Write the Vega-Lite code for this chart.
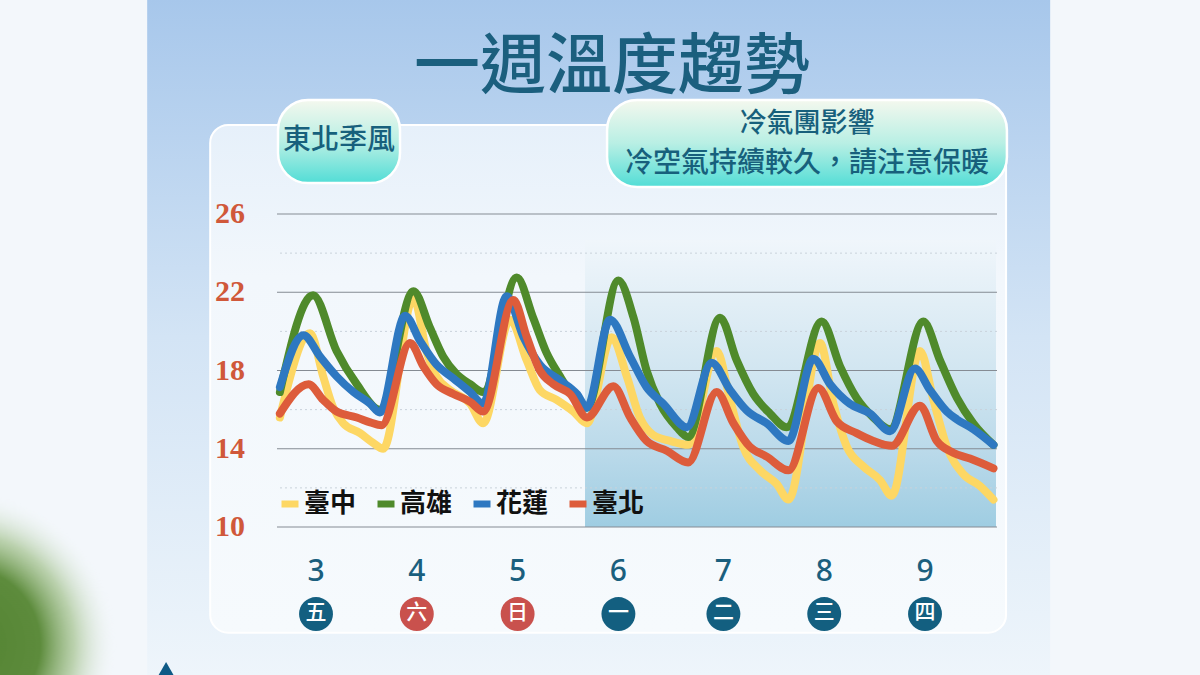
{
  "$schema": "https://vega.github.io/schema/vega-lite/v6.json",
  "width": 720,
  "height": 313,
  "autosize": {"type": "none"},
  "padding": {"left": 277, "right": 203, "top": 214, "bottom": 148},
  "background": "#f3f7fb",
  "config": {"view": {"stroke": null}, "font": "Noto Sans CJK TC"},
  "datasets": {
    "temps": [
      {"s":"臺中","t":3.4,"v":15.6},{"s":"臺中","t":10.6,"v":19.9},{"s":"臺中","t":13.7,"v":17.7},{"s":"臺中","t":16.1,"v":16.1},{"s":"臺中","t":18.5,"v":15.3},{"s":"臺中","t":22.5,"v":14.8},{"s":"臺中","t":25.6,"v":14.3},{"s":"臺中","t":28.0,"v":14.0},
      {"s":"臺中","t":35.2,"v":21.7},{"s":"臺中","t":38.4,"v":18.9},{"s":"臺中","t":40.7,"v":17.7},{"s":"臺中","t":43.9,"v":17.0},{"s":"臺中","t":48.7,"v":16.3},{"s":"臺中","t":51.8,"v":15.3},
      {"s":"臺中","t":58.2,"v":20.6},{"s":"臺中","t":62.2,"v":18.5},{"s":"臺中","t":65.3,"v":17.0},{"s":"臺中","t":69.3,"v":16.5},{"s":"臺中","t":73.3,"v":15.9},{"s":"臺中","t":76.5,"v":15.3},
      {"s":"臺中","t":82.4,"v":19.7},{"s":"臺中","t":86.0,"v":17.7},{"s":"臺中","t":89.1,"v":15.6},{"s":"臺中","t":92.3,"v":14.7},{"s":"臺中","t":96.3,"v":14.4},{"s":"臺中","t":100.6,"v":14.2},
      {"s":"臺中","t":107.4,"v":19.0},{"s":"臺中","t":110.6,"v":16.5},{"s":"臺中","t":113.7,"v":14.1},{"s":"臺中","t":117.7,"v":12.9},{"s":"臺中","t":121.7,"v":12.2},{"s":"臺中","t":124.5,"v":11.4},
      {"s":"臺中","t":132.0,"v":19.4},{"s":"臺中","t":135.2,"v":16.3},{"s":"臺中","t":138.4,"v":14.1},{"s":"臺中","t":142.3,"v":13.1},{"s":"臺中","t":146.3,"v":12.4},{"s":"臺中","t":149.1,"v":11.6},
      {"s":"臺中","t":155.8,"v":19.0},{"s":"臺中","t":159.0,"v":16.5},{"s":"臺中","t":162.2,"v":14.1},{"s":"臺中","t":166.1,"v":12.7},{"s":"臺中","t":170.1,"v":12.1},{"s":"臺中","t":173.3,"v":11.4},

      {"s":"高雄","t":3.4,"v":16.9},{"s":"高雄","t":11.3,"v":21.85},{"s":"高雄","t":16.9,"v":19.0},{"s":"高雄","t":21.7,"v":17.3},{"s":"高雄","t":27.2,"v":16.0},
      {"s":"高雄","t":35.2,"v":22.05},{"s":"高雄","t":39.1,"v":20.2},{"s":"高雄","t":42.3,"v":18.7},{"s":"高雄","t":45.5,"v":17.8},{"s":"高雄","t":48.7,"v":17.3},{"s":"高雄","t":51.8,"v":16.9},
      {"s":"高雄","t":59.8,"v":22.75},{"s":"高雄","t":63.7,"v":20.7},{"s":"高雄","t":66.9,"v":18.9},{"s":"高雄","t":70.1,"v":17.7},{"s":"高雄","t":72.5,"v":16.9},{"s":"高雄","t":74.9,"v":16.3},{"s":"高雄","t":76.5,"v":16.1},
      {"s":"高雄","t":84.0,"v":22.6},{"s":"高雄","t":87.6,"v":20.7},{"s":"高雄","t":90.7,"v":18.0},{"s":"高雄","t":93.9,"v":16.3},{"s":"高雄","t":97.9,"v":15.1},{"s":"高雄","t":100.6,"v":14.6},
      {"s":"高雄","t":108.2,"v":20.7},{"s":"高雄","t":112.2,"v":18.5},{"s":"高雄","t":116.1,"v":16.8},{"s":"高雄","t":120.1,"v":15.8},{"s":"高雄","t":124.1,"v":15.1},
      {"s":"高雄","t":132.4,"v":20.5},{"s":"高雄","t":136.8,"v":18.2},{"s":"高雄","t":140.7,"v":16.6},{"s":"高雄","t":144.7,"v":15.6},{"s":"高雄","t":148.7,"v":15.0},
      {"s":"高雄","t":156.6,"v":20.5},{"s":"高雄","t":160.6,"v":18.5},{"s":"高雄","t":164.6,"v":16.6},{"s":"高雄","t":168.5,"v":15.3},{"s":"高雄","t":173.3,"v":14.2},

      {"s":"花蓮","t":3.4,"v":17.15},{"s":"花蓮","t":9.0,"v":19.8},{"s":"花蓮","t":13.0,"v":18.7},{"s":"花蓮","t":16.9,"v":17.7},{"s":"花蓮","t":20.9,"v":16.9},{"s":"花蓮","t":24.9,"v":16.3},{"s":"花蓮","t":27.2,"v":15.85},
      {"s":"花蓮","t":33.2,"v":20.8},{"s":"花蓮","t":36.8,"v":19.5},{"s":"花蓮","t":40.7,"v":18.3},{"s":"花蓮","t":44.7,"v":17.6},{"s":"花蓮","t":48.7,"v":16.9},{"s":"花蓮","t":51.8,"v":16.3},
      {"s":"花蓮","t":57.4,"v":21.8},{"s":"花蓮","t":61.4,"v":19.7},{"s":"花蓮","t":65.3,"v":18.3},{"s":"花蓮","t":70.1,"v":17.5},{"s":"花蓮","t":74.1,"v":16.8},{"s":"花蓮","t":76.5,"v":16.1},
      {"s":"花蓮","t":82.0,"v":20.6},{"s":"花蓮","t":86.8,"v":18.7},{"s":"花蓮","t":90.7,"v":17.15},{"s":"花蓮","t":94.7,"v":16.3},{"s":"花蓮","t":100.3,"v":15.1},
      {"s":"花蓮","t":106.2,"v":18.4},{"s":"花蓮","t":110.6,"v":17.0},{"s":"花蓮","t":114.6,"v":15.95},{"s":"花蓮","t":119.3,"v":15.3},{"s":"花蓮","t":124.5,"v":14.4},
      {"s":"花蓮","t":130.4,"v":18.6},{"s":"花蓮","t":134.4,"v":17.3},{"s":"花蓮","t":139.1,"v":16.3},{"s":"花蓮","t":143.9,"v":15.8},{"s":"花蓮","t":148.7,"v":14.9},
      {"s":"花蓮","t":154.6,"v":18.1},{"s":"花蓮","t":158.2,"v":17.0},{"s":"花蓮","t":162.2,"v":15.9},{"s":"花蓮","t":164.6,"v":15.5},{"s":"花蓮","t":168.5,"v":15.0},{"s":"花蓮","t":173.3,"v":14.2},

      {"s":"臺北","t":3.4,"v":15.8},{"s":"臺北","t":10.2,"v":17.3},{"s":"臺北","t":13.7,"v":16.5},{"s":"臺北","t":16.9,"v":15.9},{"s":"臺北","t":21.7,"v":15.6},{"s":"臺北","t":24.9,"v":15.35},{"s":"臺北","t":27.6,"v":15.2},
      {"s":"臺北","t":34.4,"v":19.4},{"s":"臺北","t":37.6,"v":18.2},{"s":"臺北","t":40.7,"v":17.3},{"s":"臺北","t":44.7,"v":16.8},{"s":"臺北","t":48.7,"v":16.4},{"s":"臺北","t":51.8,"v":15.9},
      {"s":"臺北","t":59.0,"v":21.6},{"s":"臺北","t":62.2,"v":19.7},{"s":"臺北","t":65.3,"v":18.0},{"s":"臺北","t":68.5,"v":17.3},{"s":"臺北","t":72.5,"v":16.8},{"s":"臺北","t":76.5,"v":15.6},
      {"s":"臺北","t":82.8,"v":17.2},{"s":"臺北","t":86.8,"v":15.6},{"s":"臺北","t":90.7,"v":14.4},{"s":"臺北","t":95.5,"v":13.9},{"s":"臺北","t":100.6,"v":13.3},
      {"s":"臺北","t":107.4,"v":16.9},{"s":"臺北","t":111.4,"v":15.3},{"s":"臺北","t":115.3,"v":14.1},{"s":"臺北","t":119.3,"v":13.6},{"s":"臺北","t":124.5,"v":12.9},
      {"s":"臺北","t":131.6,"v":17.1},{"s":"臺北","t":136.0,"v":15.4},{"s":"臺北","t":140.7,"v":14.8},{"s":"臺北","t":144.7,"v":14.4},{"s":"臺北","t":149.1,"v":14.15},
      {"s":"臺北","t":155.8,"v":16.2},{"s":"臺北","t":159.8,"v":14.4},{"s":"臺北","t":163.7,"v":13.8},{"s":"臺北","t":167.7,"v":13.5},{"s":"臺北","t":173.3,"v":13.0}
    ],
    "days": [
      {"t":12,"day":"3","wd":"五"},{"t":36,"day":"4","wd":"六"},{"t":60,"day":"5","wd":"日"},{"t":84,"day":"6","wd":"一"},{"t":109,"day":"7","wd":"二"},{"t":133,"day":"8","wd":"三"},{"t":157,"day":"9","wd":"四"}
    ],
    "major": [{"v":10},{"v":14},{"v":18},{"v":22},{"v":26}],
    "minor": [{"v":12},{"v":16},{"v":20},{"v":24}],
    "one": [{}]
  },
  "layer": [
    {
      "data": {"name": "one"},
      "mark": {"type": "rect", "fill": {"gradient": "linear", "x1": 0, "y1": 0, "x2": 0, "y2": 1, "stops": [{"offset": 0, "color": "#a7c7eb"}, {"offset": 0.5, "color": "#d3e4f5"}, {"offset": 1, "color": "#eef5fb"}]}},
      "encoding": {
        "x": {"datum": -28.2, "type": "quantitative", "scale": {"domain": [2.71, 174.14], "nice": false, "zero": false}, "axis": null},
        "x2": {"datum": 186.8},
        "y": {"datum": 2.4, "type": "quantitative", "scale": {"domain": [10, 26], "nice": false, "zero": false}, "axis": null},
        "y2": {"datum": 37.0}
      }
    },
    {
      "data": {"name": "one"},
      "mark": {"type": "point", "shape": "circle", "filled": true, "size": 95000, "opacity": 1,
               "fill": {"gradient": "radial", "x1": 0.5, "y1": 0.5, "r1": 0, "x2": 0.5, "y2": 0.5, "r2": 0.5,
                        "stops": [{"offset": 0, "color": "rgba(82,130,48,1)"}, {"offset": 0.5, "color": "rgba(88,136,54,0.97)"}, {"offset": 0.72, "color": "rgba(140,178,110,0.55)"}, {"offset": 1, "color": "rgba(243,247,251,0)"}]}},
      "encoding": {
        "x": {"datum": -72, "type": "quantitative", "scale": {"domain": [2.71, 174.14], "nice": false, "zero": false}, "axis": null},
        "y": {"datum": 4.0, "type": "quantitative", "scale": {"domain": [10, 26], "nice": false, "zero": false}, "axis": null}
      }
    },
    {
      "data": {"name": "one"},
      "mark": {"type": "rect", "cornerRadius": 18, "stroke": "#ffffff", "strokeWidth": 2, "fill": {"gradient": "linear", "x1": 0, "y1": 0, "x2": 0, "y2": 1, "stops": [{"offset": 0, "color": "#e6f0fa"}, {"offset": 0.3, "color": "#f2f7fc"}, {"offset": 1, "color": "#f6fafd"}]}},
      "encoding": {
        "x": {"datum": -13.2, "type": "quantitative", "scale": {"domain": [2.71, 174.14], "nice": false, "zero": false}, "axis": null},
        "x2": {"datum": 176.3},
        "y": {"datum": 4.6, "type": "quantitative", "scale": {"domain": [10, 26], "nice": false, "zero": false}, "axis": null},
        "y2": {"datum": 30.55}
      }
    },
    {
      "data": {"name": "one"},
      "mark": {"type": "rect", "fill": {"gradient": "linear", "x1": 0, "y1": 0, "x2": 0, "y2": 1, "stops": [{"offset": 0, "color": "#f0f6fb"}, {"offset": 0.45, "color": "#d2e6f1"}, {"offset": 0.73, "color": "#bbdaea"}, {"offset": 1, "color": "#9fcde2"}]}},
      "encoding": {
        "x": {"datum": 76.05, "type": "quantitative", "scale": {"domain": [2.71, 174.14], "nice": false, "zero": false}, "axis": null},
        "x2": {"datum": 173.9},
        "y": {"datum": 10, "type": "quantitative", "scale": {"domain": [10, 26], "nice": false, "zero": false}, "axis": null},
        "y2": {"datum": 24.67}
      }
    },
    {
      "data": {"name": "minor"},
      "mark": {"type": "rule", "stroke": "#c9d2db", "strokeWidth": 1, "strokeDash": [2, 3]},
      "encoding": {
        "y": {"field": "v", "type": "quantitative", "scale": {"domain": [10, 26], "nice": false, "zero": false}, "axis": null}
      }
    },
    {
      "data": {"name": "major"},
      "mark": {"type": "rule", "stroke": "#858b93", "strokeWidth": 1.2},
      "encoding": {
        "y": {"field": "v", "type": "quantitative", "scale": {"domain": [10, 26], "nice": false, "zero": false}, "axis": null}
      }
    },
    {
      "data": {"name": "major"},
      "mark": {"type": "text", "font": "Liberation Serif", "fontSize": 30, "fontWeight": "bold", "fill": "#d0583a", "align": "right", "baseline": "middle"},
      "encoding": {
        "x": {"datum": -4.9, "type": "quantitative", "scale": {"domain": [2.71, 174.14], "nice": false, "zero": false}, "axis": null},
        "y": {"field": "v", "type": "quantitative", "scale": {"domain": [10, 26], "nice": false, "zero": false}, "axis": null},
        "text": {"field": "v"}
      }
    },
    {
      "data": {"name": "one"},
      "mark": {"type": "rect", "cornerRadius": 30, "stroke": "#ffffff", "strokeWidth": 2.5, "fill": {"gradient": "linear", "x1": 0, "y1": 0, "x2": 0, "y2": 1, "stops": [{"offset": 0, "color": "#f4f8ee"}, {"offset": 0.5, "color": "#b8efe4"}, {"offset": 1, "color": "#52ddd6"}]}},
      "encoding": {
        "x": {"datum": 2.95, "type": "quantitative", "scale": {"domain": [2.71, 174.14], "nice": false, "zero": false}, "axis": null},
        "x2": {"datum": 32.0},
        "y": {"datum": 27.58, "type": "quantitative", "scale": {"domain": [10, 26], "nice": false, "zero": false}, "axis": null},
        "y2": {"datum": 31.83}
      }
    },
    {
      "data": {"name": "one"},
      "mark": {"type": "rect", "cornerRadius": 30, "stroke": "#ffffff", "strokeWidth": 2.5, "fill": {"gradient": "linear", "x1": 0, "y1": 0, "x2": 0, "y2": 1, "stops": [{"offset": 0, "color": "#f4f8ee"}, {"offset": 0.5, "color": "#b8efe4"}, {"offset": 1, "color": "#52ddd6"}]}},
      "encoding": {
        "x": {"datum": 81.3, "type": "quantitative", "scale": {"domain": [2.71, 174.14], "nice": false, "zero": false}, "axis": null},
        "x2": {"datum": 176.5},
        "y": {"datum": 27.38, "type": "quantitative", "scale": {"domain": [10, 26], "nice": false, "zero": false}, "axis": null},
        "y2": {"datum": 31.83}
      }
    },
    {
      "data": {"name": "one"},
      "mark": {"type": "text", "text": "東北季風", "font": "Noto Sans CJK TC", "fontSize": 28, "fontWeight": 500, "fill": "#17607c", "align": "center", "baseline": "middle"},
      "encoding": {
        "x": {"datum": 17.5, "type": "quantitative", "scale": {"domain": [2.71, 174.14], "nice": false, "zero": false}, "axis": null},
        "y": {"datum": 29.73, "type": "quantitative", "scale": {"domain": [10, 26], "nice": false, "zero": false}, "axis": null}
      }
    },
    {
      "data": {"name": "one"},
      "mark": {"type": "text", "text": "冷氣團影響", "font": "Noto Sans CJK TC", "fontSize": 27, "fontWeight": 500, "fill": "#17607c", "align": "center", "baseline": "middle"},
      "encoding": {
        "x": {"datum": 128.9, "type": "quantitative", "scale": {"domain": [2.71, 174.14], "nice": false, "zero": false}, "axis": null},
        "y": {"datum": 30.6, "type": "quantitative", "scale": {"domain": [10, 26], "nice": false, "zero": false}, "axis": null}
      }
    },
    {
      "data": {"name": "one"},
      "mark": {"type": "text", "text": "冷空氣持續較久，請注意保暖", "font": "Noto Sans CJK TC", "fontSize": 28, "fontWeight": 500, "fill": "#17607c", "align": "center", "baseline": "middle"},
      "encoding": {
        "x": {"datum": 128.9, "type": "quantitative", "scale": {"domain": [2.71, 174.14], "nice": false, "zero": false}, "axis": null},
        "y": {"datum": 28.55, "type": "quantitative", "scale": {"domain": [10, 26], "nice": false, "zero": false}, "axis": null}
      }
    },
    {
      "data": {"name": "one"},
      "mark": {"type": "text", "text": "一週溫度趨勢", "font": "Noto Sans CJK TC", "fontSize": 66, "fontWeight": 500, "fill": "#1b5f7e", "align": "center", "baseline": "middle"},
      "encoding": {
        "x": {"datum": 82.5, "type": "quantitative", "scale": {"domain": [2.71, 174.14], "nice": false, "zero": false}, "axis": null},
        "y": {"datum": 33.46, "type": "quantitative", "scale": {"domain": [10, 26], "nice": false, "zero": false}, "axis": null}
      }
    },
    {
      "data": {"name": "one"},
      "mark": {"type": "point", "shape": "triangle-up", "filled": true, "size": 500, "color": "#0e5a86", "opacity": 1},
      "encoding": {
        "x": {"datum": -23.7, "type": "quantitative", "scale": {"domain": [2.71, 174.14], "nice": false, "zero": false}, "axis": null},
        "y": {"datum": 2.6, "type": "quantitative", "scale": {"domain": [10, 26], "nice": false, "zero": false}, "axis": null}
      }
    },
    {
      "data": {"name": "days"},
      "mark": {"type": "text", "font": "Noto Sans", "fontSize": 30, "fontWeight": 500, "fill": "#1a5f7e", "align": "center", "baseline": "middle"},
      "encoding": {
        "x": {"field": "t", "type": "quantitative", "scale": {"domain": [2.71, 174.14], "nice": false, "zero": false}, "axis": null},
        "y": {"datum": 7.7, "type": "quantitative", "scale": {"domain": [10, 26], "nice": false, "zero": false}, "axis": null},
        "text": {"field": "day"}
      }
    },
    {
      "data": {"name": "days"},
      "mark": {"type": "point", "shape": "circle", "filled": true, "size": 1150, "opacity": 1},
      "encoding": {
        "x": {"field": "t", "type": "quantitative", "scale": {"domain": [2.71, 174.14], "nice": false, "zero": false}, "axis": null},
        "y": {"datum": 5.55, "type": "quantitative", "scale": {"domain": [10, 26], "nice": false, "zero": false}, "axis": null},
        "color": {"condition": {"test": "datum.wd === '六' || datum.wd === '日'", "value": "#c9514d"}, "value": "#135f80"}
      }
    },
    {
      "data": {"name": "days"},
      "mark": {"type": "text", "font": "Noto Sans CJK TC", "fontSize": 21, "fontWeight": 500, "fill": "#ffffff", "align": "center", "baseline": "middle"},
      "encoding": {
        "x": {"field": "t", "type": "quantitative", "scale": {"domain": [2.71, 174.14], "nice": false, "zero": false}, "axis": null},
        "y": {"datum": 5.6, "type": "quantitative", "scale": {"domain": [10, 26], "nice": false, "zero": false}, "axis": null},
        "text": {"field": "wd"}
      }
    },
    {
      "data": {"name": "temps"},
      "mark": {"type": "line", "strokeWidth": 8, "interpolate": "monotone", "strokeCap": "round", "strokeJoin": "round"},
      "encoding": {
        "x": {"field": "t", "type": "quantitative", "scale": {"domain": [2.71, 174.14], "nice": false, "zero": false}, "axis": null},
        "y": {"field": "v", "type": "quantitative", "scale": {"domain": [10, 26], "nice": false, "zero": false}, "axis": null},
        "color": {"field": "s", "type": "nominal",
                  "scale": {"domain": ["臺中", "高雄", "花蓮", "臺北"], "range": ["#fdd764", "#4f8a2b", "#2e78c1", "#dd5c3b"]},
                  "legend": {"orient": "none", "legendX": 0, "legendY": 277, "direction": "horizontal", "title": null, "symbolType": "stroke", "symbolStrokeWidth": 7, "symbolSize": 289, "labelFontSize": 26, "labelFont": "Noto Sans CJK TC", "labelFontWeight": "bold", "labelColor": "#111111", "labelOffset": 1, "columnPadding": 6, "padding": 0, "labelLimit": 200, "zindex": 2}}
      }
    }
  ]
}
